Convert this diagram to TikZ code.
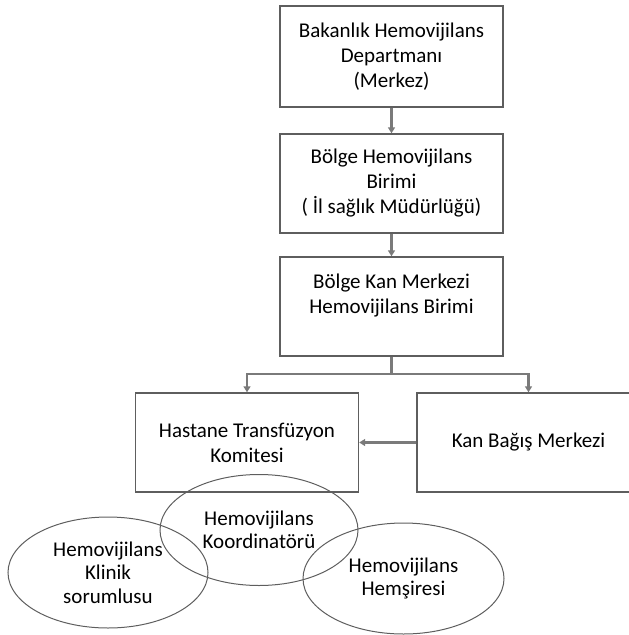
\documentclass[tikz,border=0pt]{standalone}
\usepackage{fontspec}
\setmainfont{Carlito}
\usetikzlibrary{arrows.meta,shapes.geometric}

\definecolor{edgegray}{HTML}{5E5E5E}
\definecolor{linkgray}{HTML}{7A7A7A}

\tikzset{
  unitbox/.style={draw=edgegray, line width=1.4pt, rectangle,
    minimum width=223pt, minimum height=100pt, inner sep=0pt,
    align=center, font=\fontsize{21}{25}\selectfont},
  rolebubble/.style={draw=edgegray, line width=1pt, ellipse,
    minimum width=198pt, minimum height=111pt, inner sep=0pt,
    align=center, font=\fontsize{21}{23.5}\selectfont},
  link/.style={draw=linkgray, line width=2.2pt,
    -{Triangle[width=7pt,length=6pt]}},
  plainlink/.style={draw=linkgray, line width=2.2pt}
}

\begin{document}
\begin{tikzpicture}[x=1pt,y=-1pt]
  \useasboundingbox (0,0) rectangle (629,635);
  \clip (0,0) rectangle (629,635);

  % chain of units
  \node[unitbox, minimum height=101pt] (bakan) at (391.5,56.5)
    {Bakanlık Hemovijilans\\Departmanı\\(Merkez)};
  \node[unitbox, minimum height=99pt] (bolge) at (391.5,183.5)
    {Bölge Hemovijilans\\Birimi\\( İl sağlık Müdürlüğü)};
  \node[unitbox, minimum height=99pt] (kanmerk) at (391.5,306.5)
    {Bölge Kan Merkezi\\Hemovijilans Birimi\\\phantom{X}};
  \node[unitbox, minimum height=99pt] (hastane) at (247,442.5)
    {Hastane Transfüzyon\\Komitesi};
  \node[unitbox, minimum height=99pt] (bagis) at (528.5,442.5)
    {Kan Bağış Merkezi};

  % connectors
  \draw[link] (bakan) -- (bolge);
  \draw[link] (bolge) -- (kanmerk);
  \coordinate (fork) at (391.5,374);
  \draw[plainlink] (kanmerk.south) -- (fork);
  \draw[link] (fork) -| (hastane.north);
  \draw[link] (fork) -| (bagis.north);
  \draw[link] (bagis.west) -- (hastane.east);

  % hospital roles
  \node[rolebubble] (koord) at (259,530)
    {Hemovijilans\\Koordinatörü};
  \node[rolebubble, minimum width=200pt] (klinik) at (108,572.5)
    {Hemovijilans\\Klinik\\sorumlusu};
  \node[rolebubble, minimum width=201pt] (hemsire) at (403.5,578.5)
    {Hemovijilans\\Hemşiresi};
\end{tikzpicture}
\end{document}
